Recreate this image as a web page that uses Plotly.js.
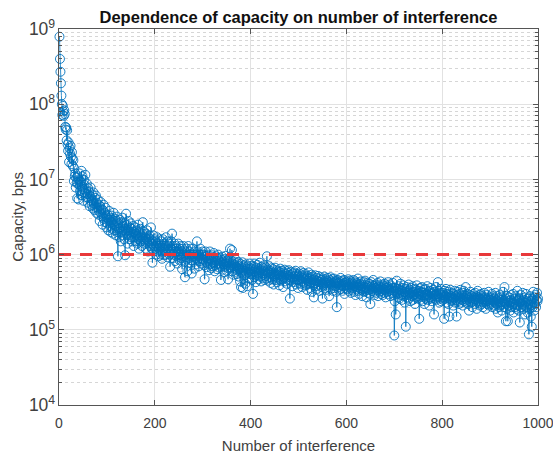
<!DOCTYPE html>
<html><head><meta charset="utf-8">
<script src="https://cdn.plot.ly/plotly-3.0.1.min.js"></script>
<style>html,body{margin:0;padding:0;background:#fff}</style>
</head><body>
<div id="chart" style="width:553px;height:455px"></div>
<script>
// Capacity (bps), one value per number of interference (1..1000)
const cap001_100 = [7.9e8,4.0e8,2.7e8,1.9e8,1.3e8,1.0e8,7.2e7,9.5e7,8.0e7,7.0e7,
8.3e7,7.4e7,5.0e7,4.6e7,4.9e7,3.3e7,4.5e7,2.9e7,2.4e7,3.1e7,
1.7e7,2.6e7,2.2e7,2.8e7,2.0e7,1.6e7,2.3e7,1.9e7,1.5e7,1.8e7,
9.5e6,1.4e7,1.1e7,1.2e7,7.8e6,1.05e7,9.0e6,5.6e6,1.1e7,8.6e6,
5.4e6,1.0e7,1.2e7,7.0e6,9.4e6,6.2e6,1.3e7,8.0e6,1.1e7,7.4e6,
5.2e6,9.8e6,8.5e6,6.6e6,1.15e7,7.1e6,5.8e6,8.8e6,6.4e6,4.9e6,
7.6e6,5.6e6,6.9e6,4.4e6,6.0e6,7.8e6,5.1e6,4.6e6,6.3e6,5.3e6,
4.1e6,6.7e6,4.8e6,3.9e6,5.7e6,4.3e6,6.1e6,3.6e6,4.9e6,4.2e6,
5.4e6,3.4e6,4.6e6,3.8e6,2.8e6,4.4e6,5.0e6,3.5e6,4.0e6,3.2e6,
2.5e6,3.9e6,4.6e6,3.0e6,3.6e6,2.7e6,4.2e6,3.3e6,2.3e6,3.1e6];
const cap101_200 = [2.6e6,3.4e6,2.1e6,2.9e6,3.8e6,2.4e6,3.1e6,2.0e6,2.7e6,3.3e6,
2.2e6,2.9e6,1.9e6,3.6e6,2.5e6,2.1e6,3.0e6,2.4e6,1.8e6,2.8e6,
3.2e6,2.0e6,9.5e5,2.6e6,2.2e6,1.7e6,2.9e6,2.3e6,1.5e6,2.7e6,
2.0e6,3.1e6,1.8e6,2.4e6,2.1e6,1.6e6,2.6e6,9.8e5,2.2e6,3.5e6,
1.9e6,2.5e6,1.4e6,2.1e6,2.8e6,1.8e6,2.3e6,1.6e6,2.0e6,2.6e6,
1.7e6,2.2e6,1.5e6,1.9e6,2.4e6,1.3e6,2.0e6,1.7e6,2.3e6,1.5e6,
1.9e6,2.1e6,1.4e6,1.8e6,2.5e6,1.6e6,1.2e6,2.0e6,1.7e6,2.2e6,
1.5e6,1.8e6,1.3e6,1.9e6,2.7e6,1.6e6,1.4e6,2.0e6,1.5e6,1.7e6,
1.2e6,1.9e6,1.6e6,2.1e6,1.4e6,1.1e6,1.7e6,1.5e6,1.8e6,1.3e6,
1.6e6,2.3e6,1.4e6,1.2e6,7.8e5,1.5e6,1.8e6,1.3e6,1.1e6,1.6e6];
const cap201_300 = [1.2e6,1.5e6,1.0e6,1.3e6,1.7e6,1.1e6,1.4e6,9.5e5,1.2e6,1.6e6,
1.3e6,1.0e6,1.5e6,1.1e6,8.8e5,1.3e6,1.6e6,1.2e6,9.8e5,1.4e6,
1.1e6,1.3e6,1.7e6,1.0e6,1.2e6,1.5e6,9.2e5,1.3e6,1.1e6,1.4e6,
1.0e6,6.9e5,1.2e6,1.5e6,1.1e6,1.9e6,1.3e6,9.0e5,1.2e6,1.0e6,
1.4e6,8.2e5,1.1e6,1.3e6,9.5e5,1.2e6,7.6e5,1.0e6,1.4e6,1.1e6,
8.5e5,1.2e6,1.0e6,1.3e6,9.0e5,1.1e6,6.4e5,1.2e6,9.6e5,1.3e6,
1.0e6,8.0e5,5.0e5,1.1e6,9.2e5,1.2e6,8.6e5,6.0e5,1.0e6,1.3e6,
9.0e5,1.1e6,7.8e5,1.0e6,1.2e6,8.4e5,5.6e5,1.0e6,9.4e5,1.2e6,
8.0e5,1.0e6,6.5e5,1.1e6,9.0e5,7.4e5,1.0e6,1.5e6,8.6e5,1.1e6,
9.5e5,7.0e5,1.0e6,8.2e5,1.2e6,9.0e5,7.6e5,1.0e6,8.8e5,1.1e6];
const cap301_400 = [8.5e5,1.0e6,7.2e5,4.7e5,9.3e5,1.1e6,8.0e5,6.8e5,9.6e5,7.6e5,
1.0e6,8.4e5,6.2e5,9.0e5,1.1e6,7.4e5,8.8e5,6.6e5,9.8e5,8.0e5,
7.0e5,9.2e5,1.05e6,7.8e5,6.0e5,8.6e5,7.2e5,9.5e5,8.2e5,6.4e5,
8.9e5,1.0e6,7.5e5,8.3e5,6.7e5,9.1e5,7.7e5,4.6e5,8.5e5,7.0e5,
9.4e5,6.3e5,8.0e5,7.4e5,5.8e5,8.7e5,6.9e5,9.6e5,7.6e5,6.1e5,
8.2e5,7.1e5,4.7e5,8.8e5,6.5e5,7.9e5,1.2e6,6.8e5,8.4e5,7.2e5,
1.15e6,6.0e5,7.6e5,5.4e5,8.1e5,6.6e5,7.3e5,5.9e5,8.6e5,6.9e5,
5.5e5,7.7e5,6.2e5,8.0e5,5.1e5,7.0e5,6.4e5,4.4e5,7.5e5,3.7e5,
6.7e5,5.8e5,7.9e5,3.6e5,6.1e5,7.2e5,5.3e5,6.8e5,4.1e5,7.4e5,
5.6e5,6.5e5,3.8e5,7.0e5,5.9e5,6.3e5,4.8e5,7.6e5,5.5e5,6.6e5];
const cap401_500 = [5.8e5,7.1e5,4.6e5,6.4e5,3.0e5,5.5e5,6.9e5,5.0e5,7.6e5,6.0e5,
4.3e5,6.7e5,5.3e5,7.3e5,5.8e5,4.7e5,6.5e5,5.6e5,7.8e5,5.1e5,
6.2e5,4.4e5,6.9e5,5.7e5,4.9e5,6.6e5,5.4e5,7.2e5,4.6e5,6.0e5,
5.2e5,6.8e5,4.8e5,9.5e5,5.6e5,6.3e5,4.5e5,5.9e5,7.0e5,5.0e5,
6.1e5,4.2e5,5.7e5,6.6e5,4.7e5,5.4e5,6.4e5,4.0e5,5.8e5,5.1e5,
6.7e5,4.6e5,5.5e5,6.2e5,4.3e5,5.3e5,6.0e5,4.8e5,5.6e5,3.9e5,
5.9e5,6.5e5,4.5e5,5.2e5,6.1e5,4.7e5,5.4e5,3.7e5,5.8e5,5.0e5,
6.3e5,4.4e5,5.5e5,4.9e5,6.0e5,4.1e5,5.3e5,5.7e5,4.6e5,6.2e5,
5.1e5,2.6e5,5.4e5,4.5e5,5.9e5,4.8e5,3.8e5,5.6e5,5.0e5,4.3e5,
5.8e5,4.7e5,5.2e5,6.1e5,4.0e5,5.5e5,4.6e5,5.1e5,3.6e5,5.3e5];
const cap501_600 = [4.6e5,5.6e5,4.1e5,5.0e5,6.0e5,4.4e5,5.3e5,3.7e5,4.8e5,5.7e5,
4.2e5,5.1e5,3.9e5,4.7e5,5.5e5,4.0e5,4.9e5,3.4e5,5.2e5,4.5e5,
5.8e5,4.1e5,4.8e5,3.6e5,5.0e5,4.3e5,5.4e5,3.2e5,4.6e5,5.1e5,
3.9e5,2.7e5,4.7e5,4.2e5,5.3e5,3.8e5,4.5e5,4.9e5,3.5e5,4.4e5,
5.2e5,4.0e5,4.7e5,3.3e5,4.3e5,5.0e5,3.7e5,4.6e5,4.1e5,2.6e5,
4.8e5,3.9e5,4.4e5,5.1e5,3.6e5,4.2e5,4.7e5,3.4e5,4.5e5,4.0e5,
4.9e5,3.7e5,4.3e5,2.8e5,4.6e5,4.1e5,5.0e5,3.5e5,4.4e5,3.9e5,
4.7e5,3.3e5,4.2e5,4.8e5,3.6e5,4.3e5,3.8e5,4.5e5,3.2e5,2.0e5,
4.1e5,4.6e5,3.7e5,4.2e5,3.4e5,4.4e5,3.9e5,4.9e5,3.5e5,4.0e5,
4.5e5,3.3e5,4.1e5,3.8e5,4.6e5,3.0e5,4.2e5,3.6e5,4.3e5,3.9e5];
const cap601_700 = [4.4e5,3.5e5,4.0e5,4.7e5,3.3e5,4.2e5,3.7e5,4.5e5,3.1e5,3.9e5,
4.3e5,3.4e5,4.1e5,3.6e5,4.6e5,3.2e5,3.8e5,4.4e5,2.9e5,4.0e5,
3.5e5,4.2e5,3.7e5,4.8e5,3.3e5,3.9e5,3.0e5,4.1e5,3.6e5,4.4e5,
3.4e5,3.8e5,2.8e5,4.0e5,3.5e5,4.3e5,3.2e5,3.7e5,4.5e5,3.3e5,
3.9e5,2.7e5,3.6e5,4.2e5,3.1e5,3.8e5,3.4e5,4.1e5,3.0e5,2.2e5,
3.7e5,4.3e5,3.3e5,3.9e5,3.5e5,4.6e5,3.2e5,3.8e5,2.9e5,3.6e5,
4.0e5,3.1e5,3.7e5,3.4e5,4.2e5,2.8e5,3.5e5,3.9e5,3.2e5,3.7e5,
4.4e5,3.0e5,3.6e5,3.3e5,4.0e5,2.9e5,3.5e5,3.8e5,3.1e5,4.1e5,
3.4e5,2.7e5,3.6e5,3.9e5,3.2e5,3.7e5,4.3e5,3.0e5,3.5e5,3.3e5,
4.0e5,2.8e5,3.4e5,3.8e5,3.1e5,3.6e5,4.2e5,2.9e5,3.3e5,8.4e4];
const cap701_800 = [2.4e5,3.6e5,1.6e5,3.2e5,4.5e5,3.0e5,3.5e5,2.7e5,3.8e5,3.1e5,
2.6e5,3.4e5,4.1e5,2.9e5,3.3e5,2.5e5,3.6e5,3.0e5,3.9e5,2.8e5,
3.2e5,2.3e5,3.5e5,1.1e5,3.1e5,3.7e5,2.7e5,3.3e5,2.9e5,4.0e5,
2.6e5,3.4e5,3.0e5,2.4e5,3.6e5,3.1e5,2.8e5,3.8e5,2.5e5,3.2e5,
2.9e5,3.5e5,2.2e5,3.0e5,3.4e5,2.7e5,3.9e5,2.6e5,3.1e5,2.8e5,
3.3e5,1.4e5,3.0e5,3.6e5,2.5e5,3.2e5,2.9e5,3.7e5,2.4e5,3.1e5,
2.7e5,3.4e5,2.2e5,2.9e5,3.5e5,2.6e5,3.0e5,2.8e5,3.8e5,2.5e5,
3.2e5,2.9e5,2.1e5,3.3e5,2.7e5,3.6e5,2.6e5,3.1e5,2.4e5,3.0e5,
3.4e5,2.8e5,1.6e5,3.2e5,2.6e5,2.9e5,3.7e5,2.5e5,3.0e5,2.7e5,
4.3e5,2.8e5,3.3e5,2.3e5,3.1e5,2.6e5,3.5e5,2.4e5,2.9e5,2.7e5];
const cap801_900 = [3.1e5,2.5e5,2.9e5,1.4e5,3.3e5,2.6e5,2.8e5,3.5e5,2.3e5,3.0e5,
2.7e5,3.2e5,2.2e5,2.9e5,1.5e5,2.6e5,3.4e5,2.4e5,2.8e5,3.1e5,
2.5e5,2.7e5,2.1e5,3.0e5,2.6e5,3.3e5,2.3e5,2.8e5,2.5e5,1.5e5,
2.9e5,3.2e5,2.4e5,2.7e5,2.2e5,3.0e5,2.6e5,3.4e5,2.3e5,2.8e5,
2.5e5,3.1e5,2.1e5,2.7e5,3.3e5,2.4e5,2.9e5,2.6e5,3.7e5,2.3e5,
2.8e5,2.5e5,3.0e5,2.2e5,2.7e5,1.8e5,2.9e5,2.4e5,3.2e5,2.6e5,
2.3e5,2.8e5,2.0e5,2.5e5,3.0e5,2.4e5,2.7e5,2.2e5,3.1e5,2.5e5,
2.8e5,1.9e5,2.6e5,3.3e5,2.3e5,2.7e5,2.4e5,2.9e5,2.1e5,2.6e5,
3.0e5,2.2e5,2.5e5,2.8e5,2.0e5,2.6e5,2.3e5,3.1e5,2.4e5,2.7e5,
1.9e5,2.5e5,2.9e5,2.2e5,2.6e5,2.4e5,3.2e5,2.1e5,2.5e5,2.3e5];
const cap901_1000 = [2.7e5,2.2e5,2.5e5,3.0e5,2.0e5,2.4e5,2.8e5,2.1e5,2.6e5,2.3e5,
3.1e5,1.9e5,2.5e5,2.2e5,2.8e5,1.7e5,2.4e5,2.6e5,2.0e5,2.9e5,
2.3e5,2.1e5,2.7e5,1.8e5,2.5e5,2.2e5,3.2e5,2.4e5,2.0e5,3.7e5,
2.3e5,2.6e5,1.3e5,2.2e5,2.8e5,1.9e5,1.3e5,2.4e5,2.1e5,2.7e5,
2.3e5,1.8e5,2.5e5,2.9e5,2.0e5,2.4e5,2.2e5,3.0e5,1.7e5,2.3e5,
2.6e5,2.0e5,2.8e5,2.2e5,1.9e5,2.5e5,3.3e5,2.1e5,2.4e5,1.8e5,
2.6e5,1.25e5,2.3e5,2.9e5,2.0e5,2.4e5,2.2e5,3.1e5,1.9e5,2.5e5,
2.1e5,2.7e5,1.6e5,2.3e5,3.0e5,2.0e5,2.4e5,1.7e5,2.6e5,2.2e5,
8.7e4,1.9e5,2.8e5,2.1e5,1.5e5,2.4e5,1.1e5,2.6e5,2.0e5,3.2e5,
2.3e5,1.8e5,2.7e5,2.2e5,2.9e5,2.0e5,2.5e5,3.1e5,2.4e5,2.6e5];
const threshold = 1e6;
const xTicks = [0, 200, 400, 600, 800, 1000];

const capacity = [].concat(cap001_100, cap101_200, cap201_300, cap301_400, cap401_500,
  cap501_600, cap601_700, cap701_800, cap801_900, cap901_1000);
const interference = capacity.map((_, i) => i + 1);

const FONT = 'Liberation Sans, Arial, Helvetica, sans-serif';
const BLUE = '#0072BD';

const traces = [
  {
    x: interference, y: capacity, type: 'scatter', mode: 'lines+markers',
    line: {color: BLUE, width: 0.8},
    marker: {symbol: 'circle-open', size: 9, color: BLUE, line: {color: BLUE, width: 0.9}},
    cliponaxis: false, hoverinfo: 'skip'
  },
  {
    x: [0, 1000], y: [threshold, threshold], type: 'scatter', mode: 'lines',
    line: {color: '#e8383a', width: 3, dash: '12px,9px'},
    hoverinfo: 'skip'
  }
];

const layout = {
  width: 553, height: 455,
  margin: {l: 59, r: 15, t: 29, b: 50},
  paper_bgcolor: '#ffffff', plot_bgcolor: '#ffffff',
  showlegend: false,
  font: {family: FONT, color: '#404040', size: 14},
  title: {
    text: '<b>Dependence of capacity on number of interference</b>',
    font: {family: FONT, size: 16.5, color: '#111111'},
    x: 0.5, xref: 'paper', xanchor: 'center',
    y: 1 - 17 / 455, yref: 'container', yanchor: 'middle'
  },
  xaxis: {
    range: [0, 1000], tickvals: xTicks, ticktext: xTicks.map(String),
    ticklabeloverflow: 'allow', ticklabelstandoff: 5,
    showgrid: true, gridcolor: '#e2e2e2', gridwidth: 1, zeroline: false,
    showline: true, linecolor: '#555555', linewidth: 1, mirror: 'ticks',
    ticks: 'inside', ticklen: 5, tickcolor: '#555555',
    tickfont: {family: FONT, size: 14, color: '#404040'},
    title: {text: 'Number of interference', font: {family: FONT, size: 15, color: '#404040'}, standoff: 10}
  },
  yaxis: {
    type: 'log', range: [4, 9], dtick: 1, exponentformat: 'power', showexponent: 'all',
    showgrid: true, gridcolor: '#e2e2e2', gridwidth: 1, zeroline: false,
    showline: true, linecolor: '#555555', linewidth: 1, mirror: 'ticks',
    ticks: 'inside', ticklen: 5, tickcolor: '#555555',
    tickfont: {family: FONT, size: 14, color: '#404040'},
    minor: {dtick: 'D1', showgrid: true, gridcolor: '#d6d6d6', griddash: 'dot', gridwidth: 1,
            ticks: 'inside', ticklen: 3, tickcolor: '#555555'},
    title: {text: 'Capacity, bps', font: {family: FONT, size: 15, color: '#404040'}, standoff: 1}
  }
};

Plotly.newPlot('chart', traces, layout, {displayModeBar: false, staticPlot: true});
</script>
</body></html>
